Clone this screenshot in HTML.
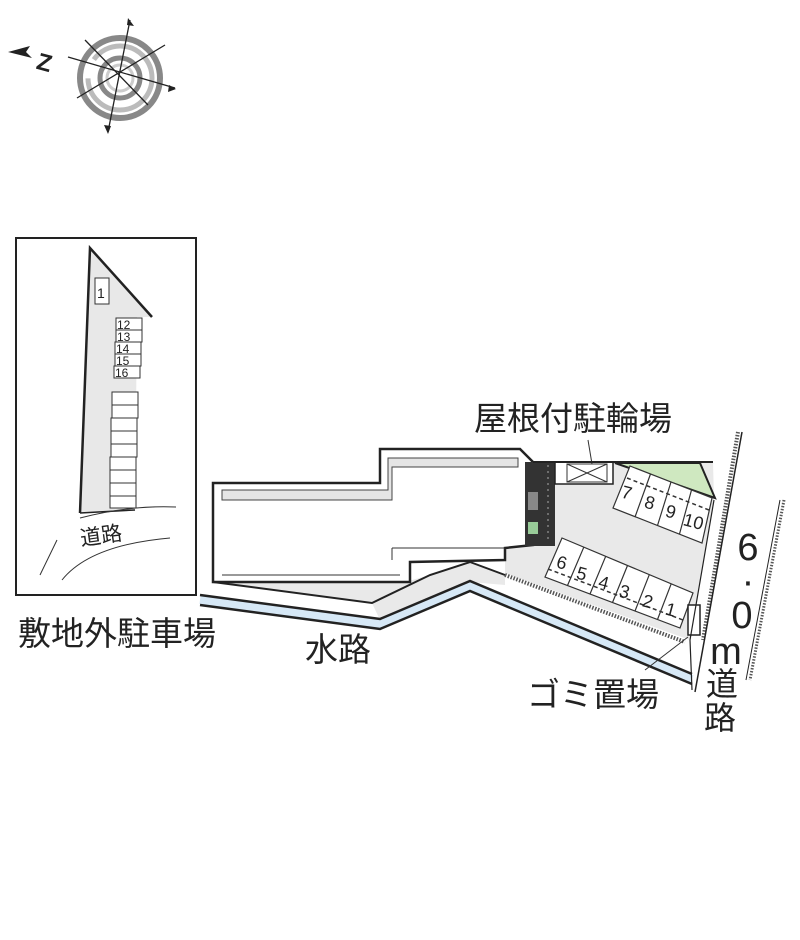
<!DOCTYPE html>
<html><head><meta charset="utf-8"><style>
html,body{margin:0;padding:0;background:#fff;}
svg{display:block;}
text{font-family:"Liberation Sans","Noto Sans CJK JP",sans-serif;fill:#222;}
</style></head><body>
<svg width="800" height="940" viewBox="0 0 800 940" xmlns="http://www.w3.org/2000/svg">
<!-- compass -->
<circle cx="120" cy="78" r="40" fill="none" stroke="#888" stroke-width="6"/>
<circle cx="120" cy="78" r="32" fill="none" stroke="#bbb" stroke-width="5" stroke-dasharray="100 20"/>
<circle cx="120" cy="78" r="20" fill="none" stroke="#888" stroke-width="5"/>
<circle cx="120" cy="78" r="13" fill="none" stroke="#ccc" stroke-width="3"/>
<g stroke="#222" stroke-width="1.3">
<line x1="130" y1="20" x2="108" y2="132"/>
<line x1="68" y1="57" x2="175" y2="88"/>
<line x1="85" y1="40" x2="148" y2="105"/>
<line x1="77" y1="98" x2="165" y2="45"/>
</g>
<path d="M128,18 L134,26 L127,25Z M108,134 L104,125 L111,126Z M176,89 L168,92 L169,85Z" fill="#222"/>
<text x="38" y="72" font-size="24" font-weight="bold" transform="rotate(15 50 60)">Z</text>
<path d="M8,52 L30,46 L26,52 L32,58Z" fill="#222"/>
<!-- inset -->
<rect x="16" y="238" width="180" height="357" fill="#fff" stroke="#222" stroke-width="2"/>
<path d="M90,248 L152,317 L137,317 L135,510 L80,513Z" fill="#e8e8e8"/>
<path d="M80,513 L90,248 L152,317" fill="none" stroke="#222" stroke-width="2.5"/>
<line x1="80" y1="513" x2="135" y2="510" stroke="#222" stroke-width="1.5"/>
<rect x="95" y="278" width="14" height="26" fill="#fff" stroke="#333"/>
<text x="97" y="298" font-size="14">1</text>
<g fill="#fff" stroke="#333" stroke-width="1">
<rect x="116" y="318" width="26" height="12"/><rect x="116" y="330" width="26" height="12"/><rect x="115" y="342" width="26" height="12"/><rect x="115" y="354" width="26" height="12"/><rect x="114" y="366" width="26" height="12"/>
<rect x="112" y="392" width="26" height="13"/><rect x="112" y="405" width="26" height="13"/><rect x="111" y="418" width="26" height="13"/><rect x="111" y="431" width="26" height="13"/><rect x="111" y="444" width="26" height="13"/><rect x="110" y="457" width="26" height="13"/><rect x="110" y="470" width="26" height="13"/><rect x="110" y="483" width="26" height="13"/><rect x="110" y="496" width="26" height="12"/>
</g>
<g font-size="12"><text x="117" y="329">12</text><text x="117" y="341">13</text><text x="116" y="353">14</text><text x="116" y="365">15</text><text x="115" y="377">16</text></g>
<path d="M80,518 Q130,505 176,507 M62,580 Q90,545 170,538 M40,575 L57,540" fill="none" stroke="#333" stroke-width="1"/>
<text x="80" y="543" font-size="21" transform="rotate(-8 100 535)">道路</text>
<!-- gray yard -->
<path d="M530,462 L713,462 L714,500 L690,640 L505,573 L505,465Z" fill="#e9e9e9"/>
<path d="M213,582 L405,582 L430,575 L470,562 L505,575 L505,585 L470,582 L380,620 L372,603 Z" fill="#e9e9e9"/>
<!-- green triangle -->
<path d="M615,463 L700,463 L715,498Z" fill="#cfe8c0" stroke="#222" stroke-width="2"/>
<!-- building -->
<path d="M213,483 L380,483 L380,449 L520,449 L533,462 L533,545 L505,548 L505,560 L410,562 L410,582 L213,582Z" fill="#fff" stroke="#222" stroke-width="2.5"/>
<path d="M222,490 L388,490 L388,458 L518,458 L518,467 L392,467 L392,500 L222,500Z" fill="#e5e5e5" stroke="#444" stroke-width="1"/>
<path d="M392,548 L505,548 M222,575 L400,575 M392,548 L392,560" fill="none" stroke="#333" stroke-width="1"/>
<rect x="525" y="462" width="30" height="84" fill="#333"/>
<rect x="528" y="492" width="10" height="18" fill="#888"/>
<rect x="528" y="522" width="10" height="12" fill="#9c9"/>
<line x1="548" y1="465" x2="548" y2="540" stroke="#aaa" stroke-dasharray="2 4"/>
<!-- bike shelter -->
<rect x="555" y="462" width="58" height="22" fill="#fff" stroke="#222" stroke-width="1.5"/>
<rect x="567" y="464" width="40" height="18" fill="none" stroke="#333"/>
<path d="M567,464 L607,482 M607,464 L567,482 M588,440 L592,464" stroke="#333"/>
<line x1="533" y1="462" x2="713" y2="462" stroke="#222" stroke-width="2"/>
<!-- parking 7-10 -->
<path d="M630,466 L712,498 L702,543 L613,508Z" fill="#fff" stroke="#333" stroke-width="1.2"/>
<path d="M650.5,474 L635,517 M671,482 L657.5,525.5 M691.5,490 L679.5,534" stroke="#333" stroke-width="1.2"/>
<path d="M627,478 L709,510" stroke="#333" stroke-width="1.5" stroke-dasharray="4 3"/>
<g font-size="18"><text x="622" y="499" transform="rotate(15 628 492)">7</text><text x="645" y="509" transform="rotate(15 651 502)">8</text><text x="666" y="518" transform="rotate(15 672 511)">9</text><text x="684" y="528" transform="rotate(15 695 520)">10</text></g>
<!-- parking 1-6 -->
<path d="M562,538 L693,593 L680,628 L545,577Z" fill="#fff" stroke="#333" stroke-width="1.2"/>
<path d="M583.8,547.2 L567.5,585.5 M605.7,556.3 L590,594 M627.5,565.5 L612.5,602.5 M649.3,574.7 L635,611 M671.2,583.8 L657.5,619.5" stroke="#333" stroke-width="1.2"/>
<path d="M548,569 L683,620" stroke="#333" stroke-width="1.5" stroke-dasharray="4 3"/>
<g font-size="18"><text x="557" y="569" transform="rotate(15 563 562)">6</text><text x="577" y="580" transform="rotate(15 583 573)">5</text><text x="599" y="589" transform="rotate(15 605 582)">4</text><text x="620" y="598" transform="rotate(15 626 590)">3</text><text x="643" y="608" transform="rotate(15 650 601)">2</text><text x="666" y="616" transform="rotate(15 672 609)">1</text></g>
<!-- hatched line -->
<path d="M505,575 L685,642" stroke="#555" stroke-width="4" stroke-dasharray="1.5 1.5"/>
<!-- garbage -->
<rect x="688" y="605" width="12" height="30" fill="#fff" stroke="#222" stroke-width="1.5"/>
<!-- yard lower line -->
<path d="M213,582 L372,603 L430,575 L470,562 L505,575" fill="none" stroke="#222" stroke-width="2"/>
<!-- water channel -->
<path d="M200,600 L380,624 L470,586 L692,679" fill="none" stroke="#d6e8f6" stroke-width="8"/>
<path d="M200,595 L380,619 L470,581 L692,674" fill="none" stroke="#222" stroke-width="2.5"/>
<path d="M200,605 L380,629 L470,591 L692,684" fill="none" stroke="#222" stroke-width="2.5"/>
<!-- roads -->
<path d="M714,500 L690,640 L692,690" stroke="#222" stroke-width="1.2" fill="none"/>
<path d="M738,432 L703,640" stroke="#555" stroke-width="4" stroke-dasharray="1.5 1.5"/>
<line x1="742" y1="432" x2="695" y2="692" stroke="#222" stroke-width="1.5"/>
<line x1="784" y1="500" x2="750" y2="680" stroke="#555" stroke-width="3" stroke-dasharray="1.5 1.5"/>
<line x1="780" y1="500" x2="746" y2="680" stroke="#222" stroke-width="1"/>
<line x1="645" y1="670" x2="688" y2="637" stroke="#333"/>
<!-- labels -->
<text x="474" y="430" font-size="33">屋根付駐輪場</text>
<text x="18" y="645" font-size="33">敷地外駐車場</text>
<text x="305" y="661" font-size="33">水路</text>
<text x="527" y="706" font-size="33">ゴミ置場</text>
<g font-size="38" text-anchor="middle">
<text x="748" y="560">6</text><text x="748" y="594">·</text><text x="742" y="628">0</text><text x="726" y="664">m</text>
</g>
<g font-size="32" text-anchor="middle"><text x="722" y="695">道</text><text x="720" y="729">路</text></g>
</svg>
</body></html>
